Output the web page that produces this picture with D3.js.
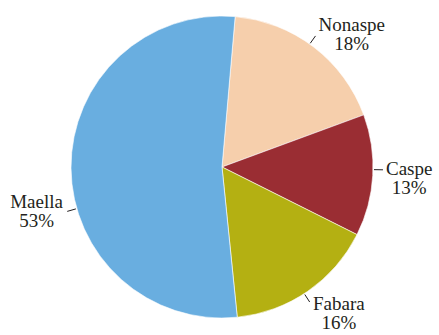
<!DOCTYPE html>
<html>
<head>
<meta charset="utf-8">
<script src="https://cdn.jsdelivr.net/npm/d3@7/dist/d3.min.js"></script>
<style>
  html, body { margin: 0; padding: 0; background: #fff; }
  svg { display: block; }
  text { font-family: "Liberation Serif", "Times New Roman", serif; fill: #231f20; }
</style>
</head>
<body>
<svg id="chart" width="439" height="335"></svg>
<script>
// Municipality shares (percent)
const categories = ["Nonaspe", "Caspe", "Fabara", "Maella"];
const shares = [18, 13, 16, 53];
const colors = ["#f6cfac", "#9a2d33", "#b4b012", "#69aee0"];

// Label placement: leader-line angle (degrees clockwise from 12 o'clock) and baseline shift
const labelLayout = [
  { angle: 35.5, side: 1, dy: -5 },
  { angle: 91, side: 1, dy: 5 },
  { angle: 147, side: 1, dy: 8 },
  { angle: 254, side: -1, dy: -3 }
];

const width = 439, height = 335;
const cx = 222, cy = 167, R = 151;
const deg = Math.PI / 180;
const start = 5 * deg;

const svg = d3.select("#chart");
const g = svg.append("g").attr("transform", `translate(${cx},${cy})`);

const pie = d3.pie().sort(null).value(d => d.value)
  .startAngle(start).endAngle(start + 2 * Math.PI);
const arc = d3.arc().innerRadius(0).outerRadius(R);

const data = categories.map((c, i) => ({ name: c, value: shares[i], color: colors[i] }));
const arcs = pie(data);

g.selectAll("path.slice")
  .data(arcs)
  .join("path")
  .attr("class", "slice")
  .attr("d", arc)
  .attr("fill", d => d.data.color)
  .attr("stroke", "#ffffff")
  .attr("stroke-width", 0.6);

const polar = (r, a) => [r * Math.sin(a), -r * Math.cos(a)];

arcs.forEach((d, i) => {
  const L = labelLayout[i];
  const a = L.angle * deg;
  const p0 = polar(R + 1, a);
  const p1 = polar(R + 10, a);
  g.append("line")
    .attr("x1", p0[0]).attr("y1", p0[1])
    .attr("x2", p1[0]).attr("y2", p1[1])
    .attr("stroke", "#231f20").attr("stroke-width", 1);

  const lines = [d.data.name, d3.format(".0f")(d.data.value) + "%"];
  const t = g.append("text").attr("font-size", 19).attr("text-anchor", "middle");
  lines.forEach((s, k) => {
    t.append("tspan").attr("x", 0).attr("y", k * 19).text(s);
  });
  const w = t.node().getBBox().width;
  const tx = L.side > 0 ? p1[0] + 3 + w / 2 : p1[0] - 4 - w / 2;
  const ty = p1[1] + L.dy;
  t.attr("transform", `translate(${tx},${ty})`);
});
</script>
</body>
</html>
